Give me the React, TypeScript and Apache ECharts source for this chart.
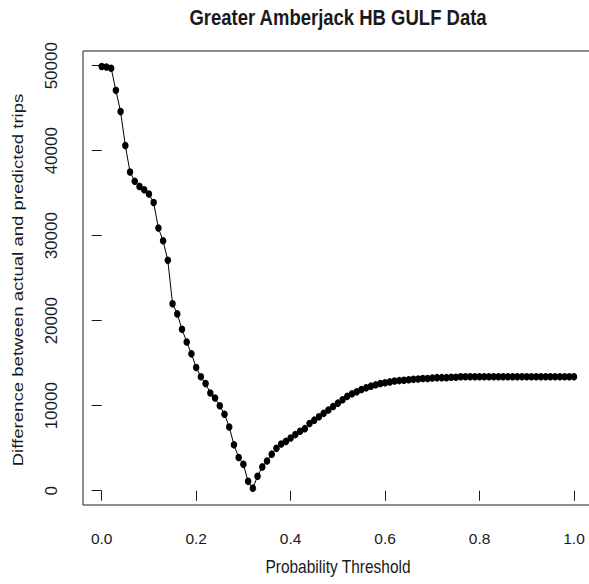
import React, { useEffect, useRef } from "react";
import * as echarts from "echarts";

const chartTitle = "Greater Amberjack HB GULF Data";
const xTitle = "Probability Threshold";
const yTitle = "Difference between actual and predicted trips";

const thresholds = [
  0.0, 0.01, 0.02, 0.03, 0.04, 0.05, 0.06, 0.07, 0.08, 0.09,
  0.1, 0.11, 0.12, 0.13, 0.14, 0.15, 0.16, 0.17, 0.18, 0.19,
  0.2, 0.21, 0.22, 0.23, 0.24, 0.25, 0.26, 0.27, 0.28, 0.29,
  0.3, 0.31, 0.32, 0.33, 0.34, 0.35, 0.36, 0.37, 0.38, 0.39,
  0.4, 0.41, 0.42, 0.43, 0.44, 0.45, 0.46, 0.47, 0.48, 0.49,
  0.5, 0.51, 0.52, 0.53, 0.54, 0.55, 0.56, 0.57, 0.58, 0.59,
  0.6, 0.61, 0.62, 0.63, 0.64, 0.65, 0.66, 0.67, 0.68, 0.69,
  0.7, 0.71, 0.72, 0.73, 0.74, 0.75, 0.76, 0.77, 0.78, 0.79,
  0.8, 0.81, 0.82, 0.83, 0.84, 0.85, 0.86, 0.87, 0.88, 0.89,
  0.9, 0.91, 0.92, 0.93, 0.94, 0.95, 0.96, 0.97, 0.98, 0.99,
  1.0,
];

const differences = [
  49900, 49850, 49700, 47100, 44600, 40600, 37500, 36400, 35800, 35400,
  34900, 33900, 30900, 29400, 27100, 22000, 20800, 19000, 17500, 16100,
  14500, 13400, 12600, 11500, 10900, 10000, 9000, 7500, 5400, 3900,
  3100, 1100, 300, 1700, 2800, 3500, 4300, 5000, 5500, 5800,
  6200, 6600, 7000, 7300, 7900, 8300, 8700, 9100, 9500, 9900,
  10300, 10700, 11100, 11400, 11650, 11900, 12100, 12300, 12450, 12600,
  12700, 12800, 12900, 12950, 13000, 13050, 13100, 13150, 13200, 13200,
  13250, 13300, 13300, 13300, 13350, 13350, 13400, 13400, 13400, 13400,
  13400, 13400, 13400, 13400, 13400, 13400, 13400, 13400, 13400, 13400,
  13400, 13400, 13400, 13400, 13400, 13400, 13400, 13400, 13400, 13400,
  13400,
];

const FONT = "'Liberation Sans', Arial, sans-serif";
const INK = "#1a1a1a";

export default function App() {
  const ref = useRef<HTMLDivElement>(null);

  useEffect(() => {
    if (!ref.current) return;
    const chart = echarts.init(ref.current, undefined, { renderer: "svg" });
    const points = thresholds.map((t, i) => [t, differences[i]]);

    chart.setOption({
      animation: false,
      backgroundColor: "#ffffff",
      textStyle: { fontFamily: FONT },
      grid: {
        left: 101.7,
        right: 15,
        top: 65.7,
        bottom: 93.3,
        containLabel: false,
      },
      xAxis: {
        type: "value",
        min: 0,
        max: 1,
        interval: 0.2,
        offset: 14.3,
        axisLine: { show: false },
        axisTick: { show: true, length: 10, inside: false, lineStyle: { color: INK, width: 1 } },
        axisLabel: {
          margin: 25,
          fontSize: 15.5,
          color: INK,
          fontFamily: FONT,
          formatter: (v: number) => v.toFixed(1),
        },
        splitLine: { show: false },
      },
      yAxis: {
        type: "value",
        min: 0,
        max: 50000,
        interval: 10000,
        offset: 18.7,
        axisLine: { show: false },
        axisTick: { show: true, length: 10, inside: false, lineStyle: { color: INK, width: 1 } },
        axisLabel: {
          margin: 23,
          rotate: 90,
          fontSize: 17,
          color: INK,
          fontFamily: FONT,
          formatter: (v: number) => String(v),
        },
        splitLine: { show: false },
      },
      graphic: [
        {
          type: "rect",
          shape: { x: 83, y: 51, width: 510, height: 454 },
          style: { fill: "none", stroke: INK, lineWidth: 1 },
          silent: true,
        },
        {
          type: "text",
          x: 338,
          y: 18,
          scaleY: 1.15,
          style: {
            text: chartTitle,
            font: `bold 18.5px ${FONT}`,
            fill: INK,
            align: "center",
            verticalAlign: "middle",
          },
        },
        {
          type: "text",
          x: 338,
          y: 567,
          scaleY: 1.15,
          style: {
            text: xTitle,
            font: `15.5px ${FONT}`,
            fill: INK,
            align: "center",
            verticalAlign: "middle",
          },
        },
        {
          type: "text",
          x: 18,
          y: 280,
          rotation: Math.PI / 2,
          scaleX: 1.2,
          style: {
            text: yTitle,
            font: `15.5px ${FONT}`,
            fill: INK,
            align: "center",
            verticalAlign: "middle",
          },
        },
      ],
      series: [
        {
          type: "line",
          data: points,
          symbol: "circle",
          symbolSize: [6.5, 7.5],
          showAllSymbol: true,
          clip: false,
          lineStyle: { color: "#000", width: 1 },
          itemStyle: { color: "#000" },
        },
      ],
    });

    return () => chart.dispose();
  }, []);

  return (
    <div
      ref={ref}
      style={{ position: "absolute", left: 0, top: 0, width: 589, height: 584, background: "#fff" }}
    />
  );
}
